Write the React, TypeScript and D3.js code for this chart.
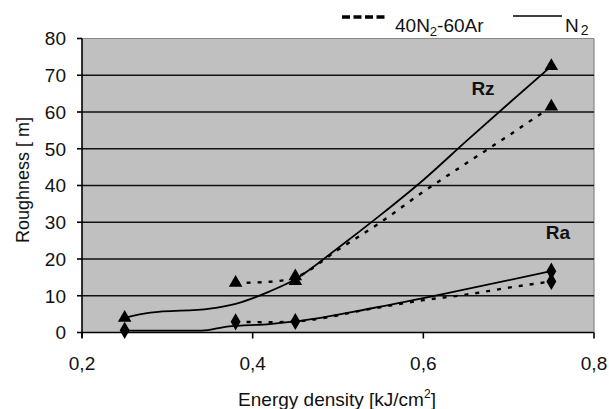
import React from "react";
import * as d3 from "d3";

// Tick values
const yTicks = [0, 10, 20, 30, 40, 50, 60, 70, 80];
const xTicks = [0.2, 0.4, 0.6, 0.8];

// Line traces (energy density, roughness)
const rzN2: [number, number][] = [
  [0.25, 4], [0.28, 5.4], [0.35, 6.5], [0.38, 7.8], [0.42, 11.2], [0.45, 14.5],
  [0.5, 23], [0.55, 32], [0.6, 41.5], [0.65, 52], [0.7, 62.3], [0.75, 72.5],
];
const rzMix: [number, number][] = [
  [0.38, 13.5], [0.42, 13.8], [0.45, 15], [0.5, 22.5], [0.55, 30],
  [0.6, 38.3], [0.65, 46], [0.7, 53.6], [0.75, 61.5],
];
const raN2: [number, number][] = [
  [0.25, 0.5], [0.34, 0.5], [0.37, 1.6], [0.42, 2.3], [0.45, 3],
  [0.54, 6.6], [0.62, 10.3], [0.75, 16.7],
];
const raMix: [number, number][] = [
  [0.38, 2.9], [0.42, 2.8], [0.45, 3], [0.54, 6.5], [0.6, 8.8],
  [0.65, 10.3], [0.7, 12.2], [0.75, 13.9],
];

// Markers
const triangles: [number, number][] = [
  [0.25, 4], [0.38, 13.5], [0.45, 14], [0.45, 15.3], [0.75, 72.5], [0.75, 61.5],
];
const diamonds: [number, number][] = [
  [0.25, 0.6], [0.38, 2.9], [0.45, 3], [0.75, 16.7], [0.75, 13.9],
];

const W = 609;
const H = 409;
const left = 82;
const right = 594;
const top = 38.5;
const bottom = 332.5;
const FONT = "'Liberation Sans', Arial, sans-serif";

export default function App() {
  const x = d3.scaleLinear().domain([0.2, 0.8]).range([left, right]);
  const y = d3.scaleLinear().domain([0, 80]).range([bottom, top]);
  const line = d3
    .line<[number, number]>()
    .x((d) => x(d[0]))
    .y((d) => y(d[1]))
    .curve(d3.curveMonotoneX);
  const tri = d3.symbol().type(d3.symbolTriangle).size(80)();
  const dia = d3.symbol().type(d3.symbolDiamond).size(85)();

  return (
    <svg
      width={W}
      height={H}
      style={{ position: "absolute", left: 0, top: 0, background: "#fff" }}
      fontFamily={FONT}
    >
      <rect x={left} y={top} width={right - left} height={bottom - top} fill="#c0c0c0" />
      {/* frame */}
      <line x1={left} x2={right} y1={top} y2={top} stroke="#888" strokeWidth={1} />
      <line x1={right} x2={right} y1={top} y2={bottom} stroke="#888" strokeWidth={1.2} />
      {/* gridlines */}
      {yTicks.slice(1, -1).map((t) => (
        <line key={t} x1={left} x2={right} y1={y(t)} y2={y(t)} stroke="#111" strokeWidth={1.6} />
      ))}
      {/* axes */}
      <line x1={left} x2={right} y1={bottom} y2={bottom} stroke="#000" strokeWidth={1.6} />
      <line x1={left} x2={left} y1={top} y2={bottom + 5} stroke="#000" strokeWidth={1.6} />
      {yTicks.map((t) => (
        <g key={t}>
          <line x1={left - 5} x2={left} y1={y(t)} y2={y(t)} stroke="#000" strokeWidth={1.6} />
          <text x={66} y={y(t)} dy="0.36em" textAnchor="end" fontSize={19} fill="#111">
            {t}
          </text>
        </g>
      ))}
      {xTicks.map((t) => (
        <g key={t}>
          <line x1={x(t)} x2={x(t)} y1={bottom} y2={bottom + 6} stroke="#000" strokeWidth={1.6} />
          <text x={x(t)} y={370} textAnchor="middle" fontSize={19} fill="#111">
            {String(t).replace(".", ",")}
          </text>
        </g>
      ))}
      {/* series lines */}
      <path d={line(rzN2) || ""} fill="none" stroke="#000" strokeWidth={1.8} />
      <path d={line(raN2) || ""} fill="none" stroke="#000" strokeWidth={1.8} />
      <path d={line(rzMix) || ""} fill="none" stroke="#000" strokeWidth={2.4} strokeDasharray="4,7" />
      <path d={line(raMix) || ""} fill="none" stroke="#000" strokeWidth={2.4} strokeDasharray="4,7" />
      {/* markers */}
      {triangles.map((d, i) => (
        <path key={"t" + i} d={tri || ""} transform={`translate(${x(d[0])},${y(d[1])})`} fill="#000" />
      ))}
      {diamonds.map((d, i) => (
        <path key={"d" + i} d={dia || ""} transform={`translate(${x(d[0])},${y(d[1])})`} fill="#000" />
      ))}
      {/* series labels */}
      <text x={483} y={95} textAnchor="middle" fontSize={19} fontWeight="bold" fill="#111">Rz</text>
      <text x={558} y={239} textAnchor="middle" fontSize={19} fontWeight="bold" fill="#111">Ra</text>
      {/* axis titles */}
      <text x={337} y={406} textAnchor="middle" fontSize={19} fill="#111">
        Energy density [kJ/cm<tspan dy={-8} fontSize={12}>2</tspan><tspan dy={8}>]</tspan>
      </text>
      <text
        transform={`translate(29,180) rotate(-90)`}
        textAnchor="middle"
        fontSize={18}
        fill="#111"
      >
        Roughness [ m]
      </text>
      {/* legend */}
      <line x1={342} x2={388} y1={17} y2={17} stroke="#000" strokeWidth={3.5} strokeDasharray="8,3.5" />
      <text x={395} y={32} fontSize={19} fill="#111">
        40N<tspan dy={4} fontSize={13}>2</tspan><tspan dy={-4}>-60Ar</tspan>
      </text>
      <line x1={513} x2={562} y1={16} y2={16} stroke="#000" strokeWidth={1.5} />
      <text x={565} y={32} fontSize={19} fill="#111">
        N<tspan dx={2} dy={3} fontSize={14}>2</tspan>
      </text>
    </svg>
  );
}
